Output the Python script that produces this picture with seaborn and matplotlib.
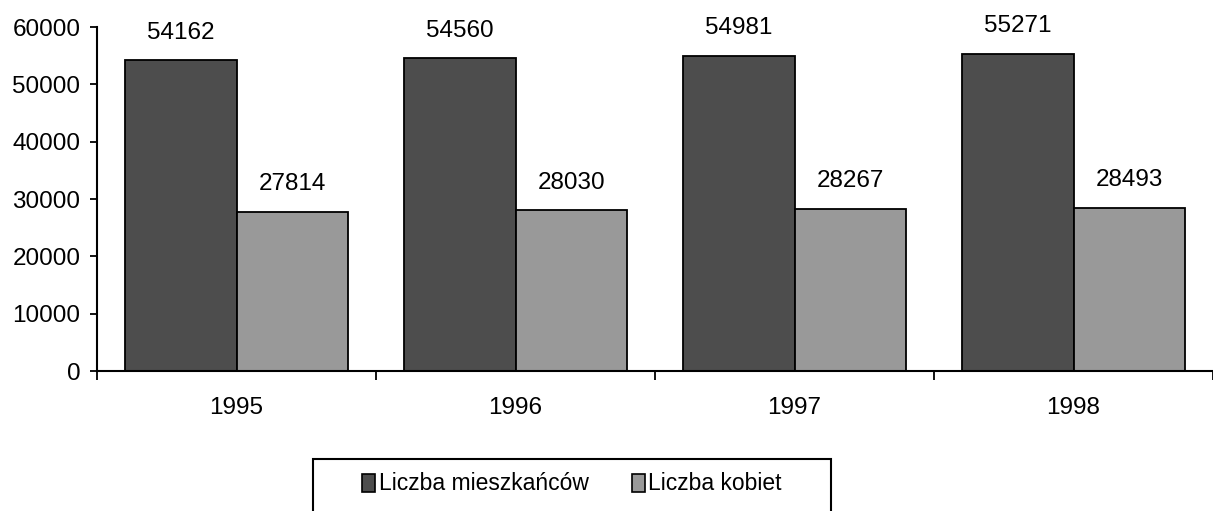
import seaborn as sns
import pandas as pd
import matplotlib.pyplot as plt
from matplotlib.patches import Patch, Rectangle

# dane
years = ['1995', '1996', '1997', '1998']
mieszkancy = [54162, 54560, 54981, 55271]
kobiety = [27814, 28030, 28267, 28493]
series = ['Liczba mieszkańców', 'Liczba kobiet']
colors = ['#4d4d4d', '#999999']

df = pd.DataFrame({
    'rok': years * 2,
    'wartosc': mieszkancy + kobiety,
    'seria': [series[0]] * 4 + [series[1]] * 4,
})

sns.set_style('white')
plt.rcParams['font.family'] = ['Liberation Sans', 'DejaVu Sans']
plt.rcParams['text.color'] = 'black'
plt.rcParams['xtick.color'] = 'black'
plt.rcParams['ytick.color'] = 'black'

fig = plt.figure(figsize=(12.13, 5.11), dpi=100)
ax = fig.add_axes([97 / 1213, 1 - 371 / 511, 1116 / 1213, 344 / 511])

sns.barplot(data=df, x='rok', y='wartosc', hue='seria', palette=colors,
            width=0.8, edgecolor='black', linewidth=1.3, saturation=1,
            legend=False, ax=ax)

for cont in ax.containers:
    ax.bar_label(cont, padding=12, fontsize=17.5, color='black')

ax.set_ylim(0, 60000)
ax.set_yticks(range(0, 60001, 10000))
ax.set_xlim(-0.5, -0.5 + 1116 / 281)
ax.set_xlabel('')
ax.set_ylabel('')

ax.set_xticks([0, 1, 2, 3])
ax.set_xticklabels(years)
ax.set_xticks([-0.5, 0.5, 1.5, 2.5, 3.5], minor=True)
ax.tick_params(axis='x', which='major', length=0, pad=19, labelsize=17.5)
ax.tick_params(axis='x', which='minor', length=6.5, width=1.3, color='black',
               direction='out', bottom=True)
ax.tick_params(axis='y', length=5, width=1.3, color='black', pad=7,
               labelsize=17.5, left=True, direction='out')

sns.despine(ax=ax)
for s in ['left', 'bottom']:
    ax.spines[s].set_linewidth(1.5)
    ax.spines[s].set_color('black')

# ramka legendy (dolna krawedz poza obrazkiem)
fig.patches.append(Rectangle((313 / 1213, -0.05), 518 / 1213, 0.05 + 52 / 511,
                             transform=fig.transFigure, fill=False,
                             edgecolor='black', linewidth=1.5))

handles = [Patch(facecolor=c, edgecolor='black', linewidth=1.2) for c in colors]
leg = fig.legend(handles, series, loc='center', ncol=2,
                 bbox_to_anchor=(572 / 1213, 1 - 484 / 511),
                 fontsize=16.5, frameon=False,
                 handlelength=0.57, handleheight=0.83,
                 handletextpad=0.15, columnspacing=1.9, borderpad=0,
                 borderaxespad=0)

plt.savefig('out.png', dpi=100)
